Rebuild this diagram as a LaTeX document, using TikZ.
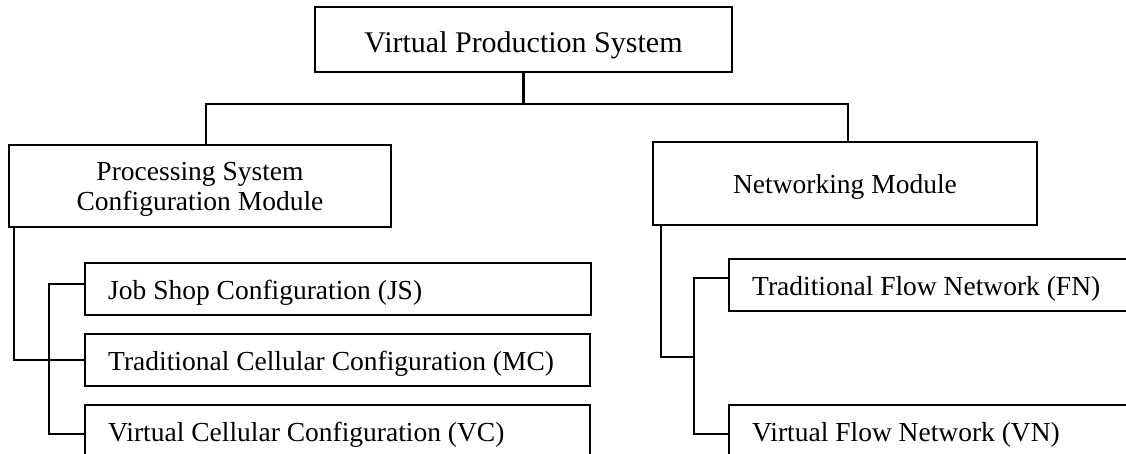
\documentclass[tikz,border=0pt]{standalone}
\usepackage{fontspec}
\setmainfont{Liberation Serif}
\begin{document}
\begin{tikzpicture}[x=1pt,y=-1pt,
  every node/.style={font=\fontsize{27.5}{30}\selectfont},
  box/.style={draw, line width=2.4pt, fill=white, inner sep=0pt},
  topbox/.style={box, minimum width=417pt, minimum height=65pt,
    font=\fontsize{30}{32}\selectfont, text height=27pt, text depth=0pt},
  modbox/.style={box, minimum height=#1, align=center, text depth=0pt},
  subbox/.style={box, anchor=north west, minimum height=52pt,
    inner xsep=23pt, text width=#1, align=flush left,
    text height=20pt, text depth=0pt},
  link/.style={line width=2.4pt, line cap=rect}]
\useasboundingbox (0,0) rectangle (1126,454);
\clip (0,0) rectangle (1126,454);

% top level
\node[topbox] (top) at (523.5,39.5) {Virtual Production System};

% the two modules
\node[modbox=82pt, minimum width=382pt] (psc) at (200,186)
  {Processing System\\Configuration Module};
\node[modbox=83pt, minimum width=384pt] (net) at (845,183.5)
  {Networking Module};

% configurations of the processing system
\node[subbox=460pt] (js) at (84,262) {Job Shop Configuration (JS)};
\node[subbox=459pt] (mc) at (84,333) {Traditional Cellular Configuration (MC)};
\node[subbox=459pt] (vc) at (84,404) {Virtual Cellular Configuration (VC)};

% flow networks
\node[subbox=366pt] (fn) at (728,258) {Traditional Flow Network (FN)};
\node[subbox=366pt] (vn) at (728,404) {Virtual Flow Network (VN)};

% tree connectors
\coordinate (bus) at (0,104);
\coordinate (lt) at ([xshift=6pt]psc.north);
\coordinate (rt) at ([xshift=3pt]net.north);
\draw[link] (top.south) -- (top.south |- bus);
\draw[link] (lt) -- (lt |- bus) -- (rt |- bus) -- (rt);

% processing system branch
\draw[link] ([xshift=6pt]psc.south west) |- (mc.west);
\draw[link] ([yshift=5pt]js.west) -- ++(-35,0) |- ([yshift=-3pt]vc.west);

% networking branch
\coordinate (fnj) at ([yshift=7.5pt,xshift=-34pt]fn.west);
\draw[link] ([yshift=7.5pt]fn.west) -- (fnj) |- ([yshift=-3pt]vn.west);
\draw[link] ([xshift=9pt]net.south west) |- (fnj |- 0,357);
\end{tikzpicture}
\end{document}
